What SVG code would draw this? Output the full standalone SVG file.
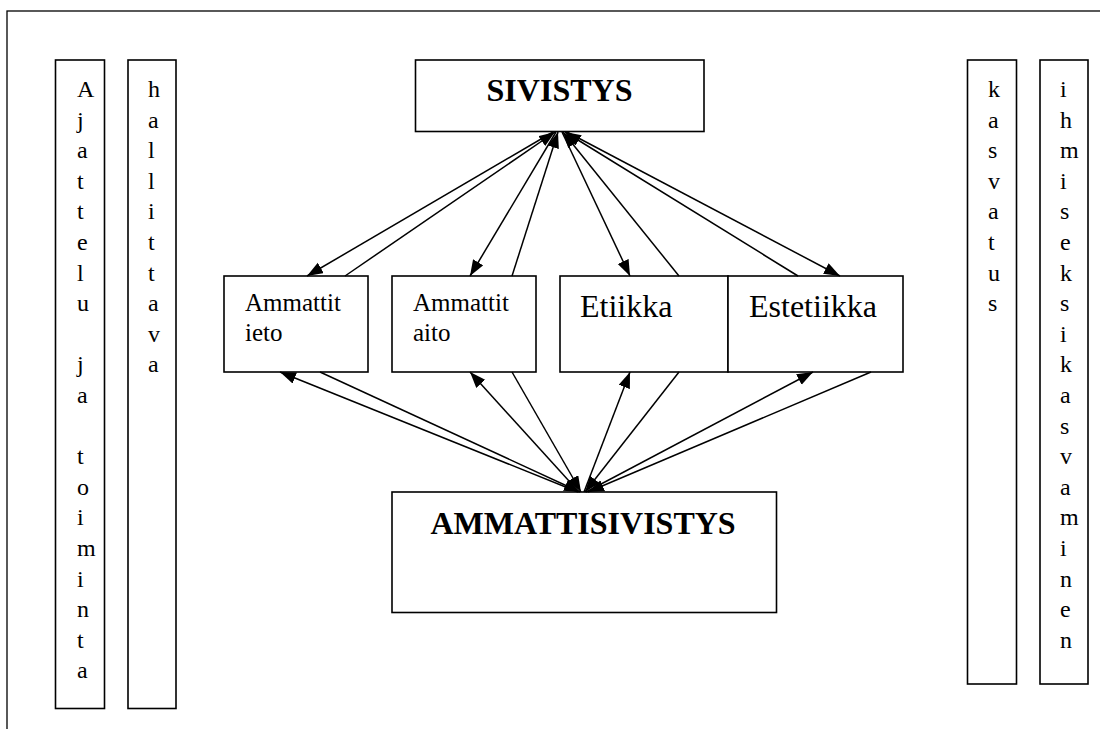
<svg xmlns="http://www.w3.org/2000/svg" width="1100" height="729" viewBox="0 0 1100 729">
<style>
.box{fill:#fff;stroke:#000;stroke-width:1.6}
.frame{fill:none;stroke:#000;stroke-width:1.3}
.t{font-family:"Liberation Serif","Times New Roman",serif;fill:#000}
.v{font-size:24px}
.m{font-size:25px}
.e{font-size:32px}
.b{font-size:32px;font-weight:bold}
.c line{stroke:#000;stroke-width:1.5;marker-end:url(#ah)}
</style>
<defs>
<marker id="ah" markerUnits="userSpaceOnUse" markerWidth="17" markerHeight="13" refX="16" refY="6" orient="auto">
<path d="M0,0 L16,6 L0,12 z" fill="#000"/>
</marker>
</defs>
<rect class="frame" x="7" y="11" width="1200" height="800"/>
<g id="left1">
<rect class="box" x="55.5" y="60" width="49" height="648.5"/>
<text class="t v" font-family="Liberation Serif, serif">
<tspan x="77" y="97">A</tspan><tspan x="77" y="127.6">j</tspan><tspan x="77" y="158.2">a</tspan><tspan x="77" y="188.8">t</tspan><tspan x="77" y="219.4">t</tspan><tspan x="77" y="250">e</tspan><tspan x="77" y="280.6">l</tspan><tspan x="77" y="311.2">u</tspan><tspan x="77" y="372.4">j</tspan><tspan x="77" y="403">a</tspan><tspan x="77" y="464.2">t</tspan><tspan x="77" y="494.8">o</tspan><tspan x="77" y="525.4">i</tspan><tspan x="77" y="556">m</tspan><tspan x="77" y="586.6">i</tspan><tspan x="77" y="617.2">n</tspan><tspan x="77" y="647.8">t</tspan><tspan x="77" y="678.4">a</tspan>
</text>
</g>
<g id="left2">
<rect class="box" x="128" y="60" width="48" height="648.5"/>
<text class="t v" font-family="Liberation Serif, serif">
<tspan x="148" y="97">h</tspan><tspan x="148" y="127.6">a</tspan><tspan x="148" y="158.2">l</tspan><tspan x="148" y="188.8">l</tspan><tspan x="148" y="219.4">i</tspan><tspan x="148" y="250">t</tspan><tspan x="148" y="280.6">t</tspan><tspan x="148" y="311.2">a</tspan><tspan x="148" y="341.8">v</tspan><tspan x="148" y="372.4">a</tspan>
</text>
</g>
<g id="right1">
<rect class="box" x="967.5" y="60" width="49" height="624"/>
<text class="t v" font-family="Liberation Serif, serif">
<tspan x="988" y="97">k</tspan><tspan x="988" y="127.6">a</tspan><tspan x="988" y="158.2">s</tspan><tspan x="988" y="188.8">v</tspan><tspan x="988" y="219.4">a</tspan><tspan x="988" y="250">t</tspan><tspan x="988" y="280.6">u</tspan><tspan x="988" y="311.2">s</tspan>
</text>
</g>
<g id="right2">
<rect class="box" x="1040" y="60" width="48" height="624"/>
<text class="t v" font-family="Liberation Serif, serif">
<tspan x="1060" y="97">i</tspan><tspan x="1060" y="127.6">h</tspan><tspan x="1060" y="158.2">m</tspan><tspan x="1060" y="188.8">i</tspan><tspan x="1060" y="219.4">s</tspan><tspan x="1060" y="250">e</tspan><tspan x="1060" y="280.6">k</tspan><tspan x="1060" y="311.2">s</tspan><tspan x="1060" y="341.8">i</tspan><tspan x="1060" y="372.4">k</tspan><tspan x="1060" y="403">a</tspan><tspan x="1060" y="433.6">s</tspan><tspan x="1060" y="464.2">v</tspan><tspan x="1060" y="494.8">a</tspan><tspan x="1060" y="525.4">m</tspan><tspan x="1060" y="556">i</tspan><tspan x="1060" y="586.6">n</tspan><tspan x="1060" y="617.2">e</tspan><tspan x="1060" y="647.8">n</tspan>
</text>
</g>
<g id="sivistys">
<rect class="box" x="415.5" y="60" width="288.5" height="71.5"/>
<text class="t b" font-family="Liberation Serif, serif" x="559.5" y="101" text-anchor="middle">SIVISTYS</text>
</g>
<g id="ammattitieto">
<rect class="box" x="224" y="276" width="144" height="96"/>
<text class="t m" font-family="Liberation Serif, serif"><tspan x="245" y="311">Ammattit</tspan><tspan x="245" y="341">ieto</tspan></text>
</g>
<g id="ammattitaito">
<rect class="box" x="392" y="276" width="144" height="96"/>
<text class="t m" font-family="Liberation Serif, serif"><tspan x="413" y="311">Ammattit</tspan><tspan x="413" y="341">aito</tspan></text>
</g>
<g id="etiikka">
<rect class="box" x="560" y="276" width="168" height="96"/>
<text class="t e" font-family="Liberation Serif, serif" x="580" y="317">Etiikka</text>
</g>
<g id="estetiikka">
<rect class="box" x="728" y="276" width="175" height="96"/>
<text class="t e" font-family="Liberation Serif, serif" x="749" y="317">Estetiikka</text>
</g>
<g id="ammattisivistys">
<rect class="box" x="392" y="492" width="384.5" height="120.5"/>
<text class="t b" font-family="Liberation Serif, serif" x="583" y="534" text-anchor="middle">AMMATTISIVISTYS</text>
</g>
<g id="connectors" class="c">
<line x1="553" y1="132" x2="307" y2="276"/>
<line x1="345" y1="276" x2="555" y2="132"/>
<line x1="556" y1="132" x2="470" y2="276"/>
<line x1="512" y1="276" x2="558" y2="132"/>
<line x1="562" y1="132" x2="630" y2="276"/>
<line x1="679" y1="276" x2="563" y2="132"/>
<line x1="798" y1="276" x2="565" y2="132"/>
<line x1="567" y1="132" x2="840" y2="276"/>
<line x1="578" y1="492" x2="280" y2="372"/>
<line x1="320" y1="372" x2="580" y2="492"/>
<line x1="579" y1="492" x2="470" y2="372"/>
<line x1="512" y1="372" x2="581" y2="492"/>
<line x1="584" y1="492" x2="630" y2="372"/>
<line x1="679" y1="372" x2="585" y2="492"/>
<line x1="586" y1="492" x2="813" y2="372"/>
<line x1="871" y1="372" x2="588" y2="492"/>
</g>
</svg>
